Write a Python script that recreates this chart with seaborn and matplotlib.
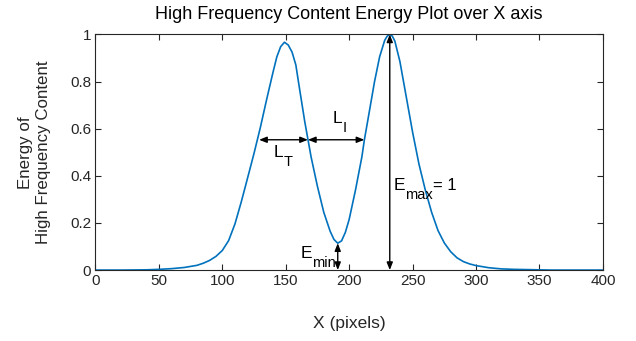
import numpy as np
import matplotlib
matplotlib.use("Agg")
import matplotlib.pyplot as plt
import seaborn as sns
import pandas as pd

# energy curve (x in pixels, normalised energy)
x_vals = [0, 20, 40, 50, 60, 70, 80, 85, 90, 95, 100, 105, 110, 115, 120,
          125, 130, 135, 140, 143, 146, 149, 152, 155, 158, 160, 165, 168,
          170, 175, 180, 185, 188, 191, 194, 197, 200, 205, 210, 212, 215,
          220, 224, 228, 230, 232, 234, 236, 240, 245, 250, 255, 260, 265,
          270, 275, 280, 285, 290, 295, 300, 310, 320, 330, 340, 350, 360,
          400]
energy = [0.000, 0.000, 0.001, 0.003, 0.006, 0.011, 0.020, 0.029, 0.041,
          0.058, 0.083, 0.125, 0.196, 0.290, 0.392, 0.495, 0.605, 0.725,
          0.840, 0.905, 0.948, 0.967, 0.955, 0.925, 0.870, 0.800, 0.630,
          0.540, 0.480, 0.355, 0.245, 0.165, 0.130, 0.114, 0.124, 0.160,
          0.215, 0.340, 0.480, 0.553, 0.645, 0.800, 0.905, 0.975, 0.993,
          1.000, 0.993, 0.972, 0.885, 0.735, 0.585, 0.450, 0.340, 0.245,
          0.168, 0.115, 0.078, 0.052, 0.036, 0.026, 0.019, 0.010, 0.005,
          0.003, 0.002, 0.001, 0.000, 0.000]

x_ticks = [0, 50, 100, 150, 200, 250, 300, 350, 400]
y_ticks = [0, 0.2, 0.4, 0.6, 0.8, 1]

# annotation measurements
half_level = 0.553
lt_span = (129, 167.5)
li_span = (167.5, 212)
x_min, e_min = 191, 0.114
x_max, e_max = 232, 1.0

df = pd.DataFrame({"x": x_vals, "energy": energy})

sns.set_style("ticks")
plt.rcParams["font.family"] = ["Liberation Sans", "DejaVu Sans"]

ink = "#262626"
fig = plt.figure(figsize=(6.36, 3.41), dpi=100)
ax = fig.add_axes([0.150, 0.208, 0.798, 0.691])

sns.lineplot(data=df, x="x", y="energy", color="#0072BD", linewidth=1.2, ax=ax)

ax.set_xlim(0, 400)
ax.set_ylim(0, 1)
ax.set_xticks(x_ticks)
ax.set_xticklabels([str(v) for v in x_ticks])
ax.set_yticks(y_ticks)
ax.set_yticklabels([f"{v:g}" for v in y_ticks])
ax.tick_params(direction="in", length=4, width=0.8, top=True, right=True,
               labelsize=11, colors=ink, pad=3)
for s in ax.spines.values():
    s.set_color(ink)
    s.set_linewidth(0.8)
    s.set_visible(True)

ax.set_title("High Frequency Content Energy Plot over X axis", fontsize=13,
             color="black", pad=11)
ax.set_xlabel("X (pixels)", fontsize=12.5, color=ink, labelpad=20)
ax.set_ylabel("Energy of\nHigh Frequency Content", fontsize=12.2, color=ink,
              labelpad=14)

arrow = dict(arrowstyle="<|-|>,head_length=0.45,head_width=0.18",
             color="black", lw=1.0, shrinkA=0, shrinkB=0, mutation_scale=10)
ax.annotate("", xy=(lt_span[0], half_level), xytext=(lt_span[1], half_level),
            arrowprops=arrow)
ax.annotate("", xy=(li_span[0], half_level), xytext=(li_span[1], half_level),
            arrowprops=arrow)
ax.annotate("", xy=(x_min, 0), xytext=(x_min, e_min), arrowprops=arrow)
ax.annotate("", xy=(x_max, 0), xytext=(x_max, e_max), arrowprops=arrow)


def sub_label(x, y, main, sub, tail=""):
    # MATLAB-like subscript: main letter, then a lowered smaller label
    t = ax.text(x, y, main, fontsize=12.5, va="center", color="black")
    fig.canvas.draw()
    w1 = t.get_window_extent().width
    s = ax.annotate(sub, xy=(x, y), xytext=(w1 * 72 / fig.dpi, -7),
                    textcoords="offset points", fontsize=10.5, va="center",
                    color="black")
    if tail:
        fig.canvas.draw()
        w2 = s.get_window_extent().width
        ax.annotate(tail, xy=(x, y),
                    xytext=((w1 + w2) * 72 / fig.dpi, 0),
                    textcoords="offset points", fontsize=12, va="center",
                    color="black")


sub_label(140.5, 0.50, "L", "T")
sub_label(187, 0.645, "L", "I")
sub_label(161.5, 0.072, "E", "min")
sub_label(235, 0.36, "E", "max", "= 1")

fig.savefig("out.png", dpi=100)
